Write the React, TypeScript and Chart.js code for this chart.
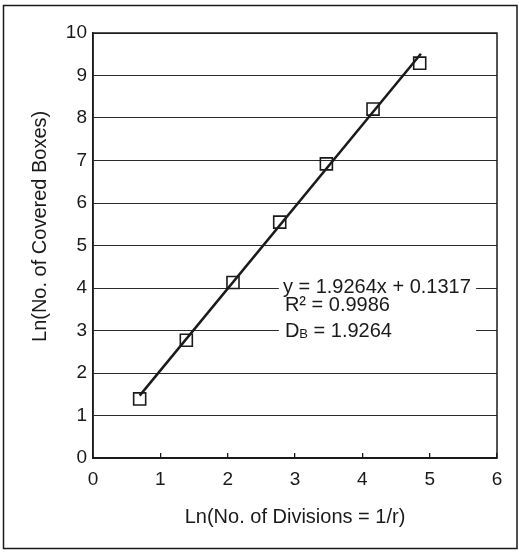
import React, { useEffect, useRef } from "react";
import { Chart, registerables } from "chart.js";

Chart.register(...registerables);

// Observed points: Ln(No. of Divisions = 1/r) vs Ln(No. of Covered Boxes)
const divisionsLn = [0.693, 1.386, 2.079, 2.773, 3.466, 4.159, 4.852];
const coveredLn = [1.39, 2.77, 4.13, 5.55, 6.92, 8.21, 9.29];

// Fitted trend line (as printed on the chart)
const slope = 1.9264;
const intercept = 0.1317;
const trendXRange = [0.693, 4.87];

const xTickValues = [0, 1, 2, 3, 4, 5, 6];
const yTickValues = [0, 1, 2, 3, 4, 5, 6, 7, 8, 9, 10];

const xTitle = "Ln(No. of Divisions = 1/r)";
const yTitle = "Ln(No. of Covered Boxes)";
const equationText = "y = 1.9264x + 0.1317";
const r2Text = "R² = 0.9986";
const dbMain = "D";
const dbSub = "B";
const dbValue = " = 1.9264";

const FONT = "'Liberation Sans', Arial, Helvetica, sans-serif";
const INK = "#1a1a1a";

export default function App() {
  const canvasRef = useRef<HTMLCanvasElement | null>(null);

  useEffect(() => {
    const canvas = canvasRef.current;
    if (!canvas) return;

    const framePlugin = {
      id: "frame",
      afterDraw(chart: any) {
        const { ctx, chartArea, scales } = chart;
        ctx.save();
        ctx.strokeStyle = INK;
        ctx.lineWidth = 1.5;
        ctx.strokeRect(chartArea.left, chartArea.top, chartArea.right - chartArea.left, chartArea.bottom - chartArea.top);
        ctx.strokeRect(3.5, 5.5, 513.5, 543);
        // y-axis title, placed where the reference has it (slightly above the plot centre)
        ctx.fillStyle = INK;
        ctx.font = `20px ${FONT}`;
        ctx.textAlign = "center";
        ctx.textBaseline = "middle";
        ctx.translate(40, scales.y.getPixelForValue(5.45));
        ctx.rotate(-Math.PI / 2);
        ctx.fillText(yTitle, 0, 0);
        ctx.restore();
      },
    };

    const annotationPlugin = {
      id: "equation",
      afterDatasetsDraw(chart: any) {
        const { ctx, scales } = chart;
        const xs = scales.x;
        const ys = scales.y;
        const bx1 = xs.getPixelForValue(2.76);
        const bx2 = xs.getPixelForValue(5.69);
        const by1 = ys.getPixelForValue(4.26);
        const by2 = ys.getPixelForValue(2.66);
        ctx.save();
        ctx.fillStyle = "#ffffff";
        ctx.fillRect(bx1, by1, bx2 - bx1, by2 - by1);
        ctx.fillStyle = INK;
        ctx.textBaseline = "middle";
        ctx.textAlign = "left";
        ctx.font = `20px ${FONT}`;
        ctx.fillText(equationText, xs.getPixelForValue(2.82), ys.getPixelForValue(4.02));
        const x2 = xs.getPixelForValue(2.85);
        ctx.fillText(r2Text, x2, ys.getPixelForValue(3.58));
        const y3 = ys.getPixelForValue(2.98);
        ctx.fillText(dbMain, x2, y3);
        let cx = x2 + ctx.measureText(dbMain).width;
        ctx.font = `13px ${FONT}`;
        ctx.fillText(dbSub, cx, y3 + 3);
        cx += ctx.measureText(dbSub).width;
        ctx.font = `20px ${FONT}`;
        ctx.fillText(dbValue, cx, y3);
        ctx.restore();
      },
    };

    const chart = new Chart(canvas, {
      type: "scatter",
      data: {
        datasets: [
          {
            type: "line",
            label: "trend",
            data: trendXRange.map((x) => ({ x, y: slope * x + intercept })),
            borderColor: INK,
            borderWidth: 2.5,
            pointRadius: 0,
            showLine: true,
            fill: false,
            order: 1,
          } as any,
          {
            label: "points",
            data: divisionsLn.map((x, i) => ({ x, y: coveredLn[i] })),
            pointStyle: "rect",
            pointRadius: 8.5,
            pointBorderWidth: 1.6,
            pointBorderColor: INK,
            pointBackgroundColor: "rgba(255,255,255,0)",
            showLine: false,
            order: 2,
          },
        ],
      },
      options: {
        responsive: false,
        animation: false,
        events: [],
        layout: { padding: { left: 0, right: 22, top: 33, bottom: 0 } },
        plugins: {
          legend: { display: false },
          tooltip: { enabled: false },
        },
        scales: {
          x: {
            type: "linear",
            min: 0,
            max: 6,
            afterBuildTicks(scale: any) {
              scale.ticks = xTickValues.map((v) => ({ value: v }));
            },
            afterFit(scale: any) {
              scale.height = 95;
            },
            ticks: {
              color: INK,
              font: { family: FONT, size: 19 },
              padding: 15.6,
              callback: (v: any) => String(v),
            },
            grid: {
              drawOnChartArea: false,
              drawTicks: true,
              tickLength: -5,
              color: INK,
              lineWidth: 1.3,
            },
            border: { display: true, color: INK, width: 1.5 },
            title: {
              display: true,
              text: xTitle,
              color: INK,
              font: { family: FONT, size: 20 },
              padding: { top: 0, bottom: 24 },
            },
          },
          y: {
            type: "linear",
            min: 0,
            max: 10,
            afterBuildTicks(scale: any) {
              scale.ticks = yTickValues.map((v) => ({ value: v }));
            },
            afterFit(scale: any) {
              scale.width = 93;
            },
            ticks: {
              color: INK,
              font: { family: FONT, size: 19 },
              padding: 6,
              callback: (v: any) => String(v),
            },
            grid: {
              drawTicks: false,
              color: "#2a2a2a",
              lineWidth: 1,
            },
            border: { display: true, color: INK, width: 1.5 },
            title: { display: false },
          },
        },
      },
      plugins: [framePlugin, annotationPlugin],
    });

    return () => {
      chart.destroy();
    };
  }, []);

  return (
    <div style={{ position: "absolute", left: 0, top: 0, width: 519, height: 553, background: "#ffffff" }}>
      <canvas ref={canvasRef} width={519} height={553} style={{ display: "block" }} />
    </div>
  );
}
